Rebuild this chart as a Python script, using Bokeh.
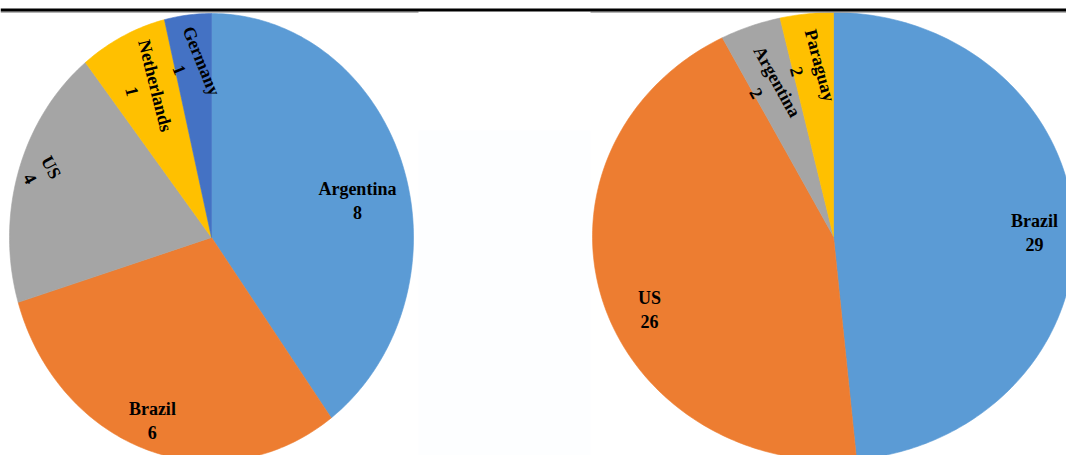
import math
from bokeh.plotting import figure
from bokeh.models import ColumnDataSource, Range1d, BoxAnnotation, Span
from bokeh.core.properties import value
from bokeh.embed import file_html
from bokeh.resources import INLINE

# ---------------- data ----------------
left_countries = ["Argentina", "Brazil", "US", "Netherlands", "Germany"]
left_counts = [8, 6, 4, 1, 1]                 # numbers printed on the slices
left_shares = [8.0, 6.1, 3.8, 1.4, 0.75]      # slice sizes

right_countries = ["Brazil", "US", "Argentina", "Paraguay"]
right_counts = [29, 26, 2, 2]
right_shares = [28.6, 25.9, 2.4, 2.1]

# ---------------- style / layout ----------------
COL = {"Argentina": "#5B9BD5", "Brazil": "#ED7D31", "US": "#A5A5A5",
       "Netherlands": "#FFC000", "Germany": "#4472C4"}
COL_R = {"Brazil": "#5B9BD5", "US": "#ED7D31", "Argentina": "#A5A5A5",
         "Paraguay": "#FFC000"}

LEFT_GEOM = dict(cx=211, cy=237, rx=202, ry=224)
RIGHT_GEOM = dict(cx=833, cy=236, rx=241, ry=224)
# per-slice label placement: (radial fraction, angle offset deg, text rotation deg clockwise)
LEFT_LBL = [(0.74, 5.6, 0), (0.868, 1.3, 0), (0.894, 1.5, 62), (0.745, -0.8, 76), (0.775, -1.0, 68)]
RIGHT_LBL = [(0.834, 1.55, 0), (0.830, -6.7, 0), (0.721, -2.5, 61), (0.757, -1.5, 75)]

W, H = 1066, 455
p = figure(width=W, height=H, output_backend="svg", toolbar_location=None,
           x_range=Range1d(0, W), y_range=Range1d(H, 0),
           min_border=0, outline_line_color=None, background_fill_color="white",
           border_fill_color="white")
p.xaxis.visible = False
p.yaxis.visible = False
p.xgrid.visible = False
p.ygrid.visible = False

# decorative elements
p.add_layout(BoxAnnotation(left=418, right=590, top=130, bottom=460,
                           fill_color="#FDFEFF", fill_alpha=1, line_color=None, level="underlay"))
p.add_layout(BoxAnnotation(left=0, right=418, top=11, bottom=12.3,
                           fill_color="#9A9A9A", fill_alpha=1, line_color=None))
p.add_layout(BoxAnnotation(left=590, right=1070, top=11, bottom=12.3,
                           fill_color="#9A9A9A", fill_alpha=1, line_color=None))
p.add_layout(Span(location=9.5, dimension="width", line_color="black", line_width=3))


def pie(names, counts, shares, geom, colors, lbl):
    cx, cy, rx, ry = geom["cx"], geom["cy"], geom["rx"], geom["ry"]
    total = sum(shares)
    xs, ys, fills = [], [], []
    tx, ty, tt, ta = [], [], [], []
    start = 0.0
    for name, cnt, s, (rf, off, rot) in zip(names, counts, shares, lbl):
        span = s / total * 360.0
        end = start + span
        n = max(4, int(span))
        px, py = [cx], [cy]
        for i in range(n + 1):
            th = math.radians(start + span * i / n)
            px.append(cx + rx * math.sin(th))
            py.append(cy - ry * math.cos(th))
        xs.append(px)
        ys.append(py)
        fills.append(colors[name])
        mid = math.radians((start + end) / 2 + off)
        tx.append(cx + rf * rx * math.sin(mid))
        ty.append(cy - rf * ry * math.cos(mid))
        tt.append(f"{name}\n{cnt}")
        ta.append(-math.radians(rot))
        start = end
    p.patches(xs="xs", ys="ys", fill_color="fc", line_color="fc", line_width=0.6,
              source=ColumnDataSource(dict(xs=xs, ys=ys, fc=fills)))
    p.text(x="x", y="y", text="t", angle="a",
           source=ColumnDataSource(dict(x=tx, y=ty, t=tt, a=ta)),
           text_font=value("Liberation Serif"), text_font_style="bold",
           text_font_size="18px", text_align="center", text_baseline="middle",
           text_line_height=1.2, text_color="black")


pie(left_countries, left_counts, left_shares, LEFT_GEOM, COL, LEFT_LBL)
pie(right_countries, right_counts, right_shares, RIGHT_GEOM, COL_R, RIGHT_LBL)

open("out.html", "w").write(file_html(p, INLINE))
